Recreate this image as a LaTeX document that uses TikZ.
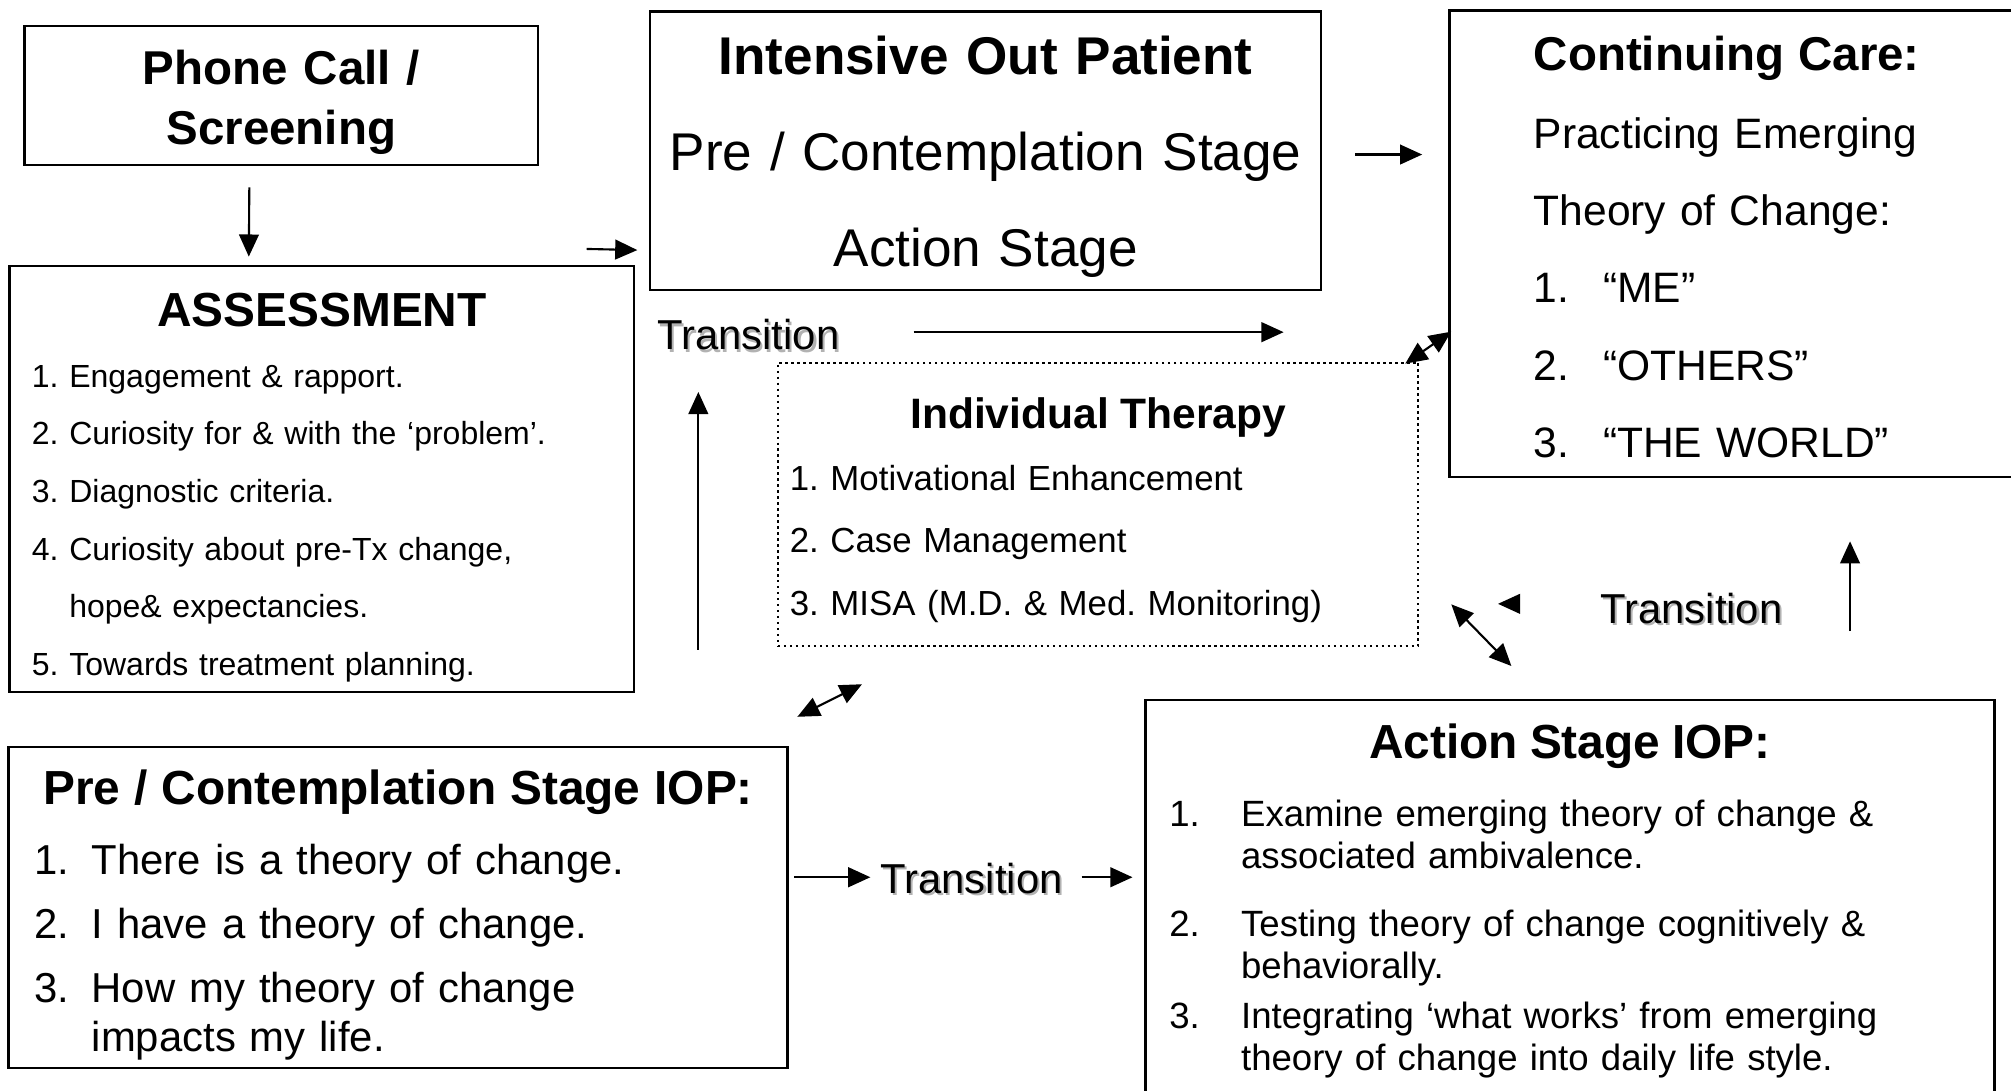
\documentclass[tikz,border=0pt]{standalone}
\usepackage{fontspec}
\setmainfont{Liberation Sans}
\usetikzlibrary{arrows.meta,calc}
\frenchspacing
\newcommand{\shadowed}[1]{\makebox[0pt][l]{\hspace{0.6pt}\raisebox{-0.6pt}{\textcolor{black!30}{#1}}}#1}
\newcommand{\num}[2]{\makebox[#1][l]{#2}}
\begin{document}
\begin{tikzpicture}[x=0.012825cm,y=-0.012825cm]
\path[use as bounding box] (0,0) rectangle (1568,850);

\tikzstyle{every node}+=[inner sep=0pt]
\tikzstyle{every path}+=[line width=0.6pt]
\tikzstyle{box}=[draw,rectangle,line width=0.7pt,text height=0pt]
\tikzstyle{dotbox}=[box,densely dotted,line width=0.6pt]
\tikzstyle{arr}=[-{Triangle[length=6.3pt,width=5.6pt]}]
\tikzstyle{dbl}=[{Triangle[length=6.3pt,width=5.6pt]}-{Triangle[length=6.3pt,width=5.6pt]}]
\tikzstyle{trans}=[font=\fontsize{11.9}{14}\selectfont]

\node[box,minimum width=146pt,minimum height=39.6pt,text width=130pt,align=center,text depth=6pt,
  font=\fontsize{13.5}{16.8}\selectfont\bfseries] (phone) at (219.4,74.5) {Phone Call /\\Screening};
\node[box,minimum width=190.8pt,minimum height=79.2pt,text width=185pt,align=center,text depth=43.2pt,
  font=\fontsize{15.1}{27.2}\selectfont] (iop) at (768.5,117.5)
  {\textbf{Intensive Out Patient}\\Pre / Contemplation Stage\\Action Stage};
\node[box,minimum width=160.5pt,minimum height=132.6pt,text width=112.5pt,align=left,text depth=98.3pt,
  font=\fontsize{12.1}{22}\selectfont] (care) at (1350.1,190)
  {{\fontsize{13.5}{16}\selectfont\bfseries Continuing Care:}\\
   Practicing Emerging\\
   Theory of Change:\\
   \num{19.7pt}{1.}“ME”\\
   \num{19.7pt}{2.}“OTHERS”\\
   \num{19.7pt}{3.}“THE WORLD”};
\node[box,minimum width=177.6pt,minimum height=121.1pt,text width=164.9pt,align=left,text depth=87pt,
  font=\fontsize{9.1}{16.4}\selectfont] (assess) at (251,373.5)
  {\makebox[\linewidth]{\fontsize{13.6}{16}\selectfont\bfseries ASSESSMENT}\\[1pt]
   1. Engagement \& rapport.\\
   2. Curiosity for \& with the ‘problem’.\\
   3. Diagnostic criteria.\\
   4. Curiosity about pre-Tx change,\\
   \hphantom{4. }hope\& expectancies.\\
   5. Towards treatment planning.};
\node[dotbox,minimum width=182.1pt,minimum height=80.6pt,text width=175.3pt,align=left,text depth=43.2pt,
  font=\fontsize{9.9}{17.7}\selectfont] (it) at (856.2,393.3)
  {\makebox[\linewidth]{\fontsize{12.1}{15}\selectfont\bfseries Individual Therapy}\\
   1. Motivational Enhancement\\
   2. Case Management\\
   3. MISA (M.D. \& Med. Monitoring)};
\node[box,minimum width=221.5pt,minimum height=91.2pt,text width=206.8pt,align=left,text depth=58.3pt,
  font=\fontsize{11.9}{14}\selectfont] (pre) at (310.4,707.6)
  {\makebox[\linewidth]{\fontsize{13.6}{16}\selectfont\bfseries Pre / Contemplation Stage IOP:}\\[5.8pt]
   \num{16.3pt}{1.}There is a theory of change.\\[4.2pt]
   \num{16.3pt}{2.}I have a theory of change.\\[4.2pt]
   \num{16.3pt}{3.}How my theory of change\\
   \hspace*{16.3pt}impacts my life.};
\node[box,anchor=north,minimum width=241.5pt,minimum height=111.7pt,text width=227.8pt,align=left,text depth=78.5pt,
  font=\fontsize{10.4}{12}\selectfont] (action) at (1224.1,545)
  {\makebox[\linewidth]{\fontsize{13.6}{16}\selectfont\bfseries Action Stage IOP:}\\[7.3pt]
   \num{20.4pt}{1.}Examine emerging theory of change \&\\
   \hspace*{20.4pt}associated ambivalence.\\[7.3pt]
   \num{20.4pt}{2.}Testing theory of change cognitively \&\\
   \hspace*{20.4pt}behaviorally.\\[2.2pt]
   \num{20.4pt}{3.}Integrating ‘what works’ from emerging\\
   \hspace*{20.4pt}theory of change into daily life style.};

\node[trans] (tr1) at (583.5,262) {\shadowed{Transition}};
\node[trans] (tr2) at (1318.8,475.6) {\shadowed{Transition}};
\node[trans] (tr3) at (757.5,686) {\shadowed{Transition}};

\draw[arr] ($(phone.south)+(-25,16.3)$) -- ($(assess.north)+(-57,-6.4)$);
\draw[arr] ($(assess.north east)+(-38,-12.4)$) -- ($(iop.west)+(-9,77.5)$);
\draw[arr] ($(iop.east)+(25.6,3)$) -- ($(care.west)+(-20.2,-69.5)$);
\draw[arr] ($(tr1.east)+(57,-3)$) -- ($(tr1.east)+(345.5,-3)$);
\draw[arr] ($(tr1.south)+(-39,231)$) -- ($(tr1.south)+(-39,30)$);
\draw[dbl] ($(it.north east)+(-11,1.6)$) -- ($(care.west)+(2.4,68.6)$);
\draw[dbl] ($(pre.north east)+(6.7,-22.7)$) -- ($(it.south west)+(66.4,28.9)$);
\draw[dbl] ($(it.south east)+(24.9,-33.4)$) -- ($(action.north west)+(286.4,-25.7)$);
\draw[arr] ($(it.south east)+(78,-33.8)$) -- ($(it.south east)+(61.3,-33.8)$);
\draw[arr] ($(care.south)+(92.4,119.3)$) -- ($(care.south)+(92.4,49.3)$);
\draw[arr] ($(pre.east)+(4.1,-23.6)$) -- ($(tr3.west)+(-7,-2)$);
\draw[arr] ($(tr3.east)+(14,-2)$) -- ($(action.north west)+(-9,139)$);
\end{tikzpicture}
\end{document}
